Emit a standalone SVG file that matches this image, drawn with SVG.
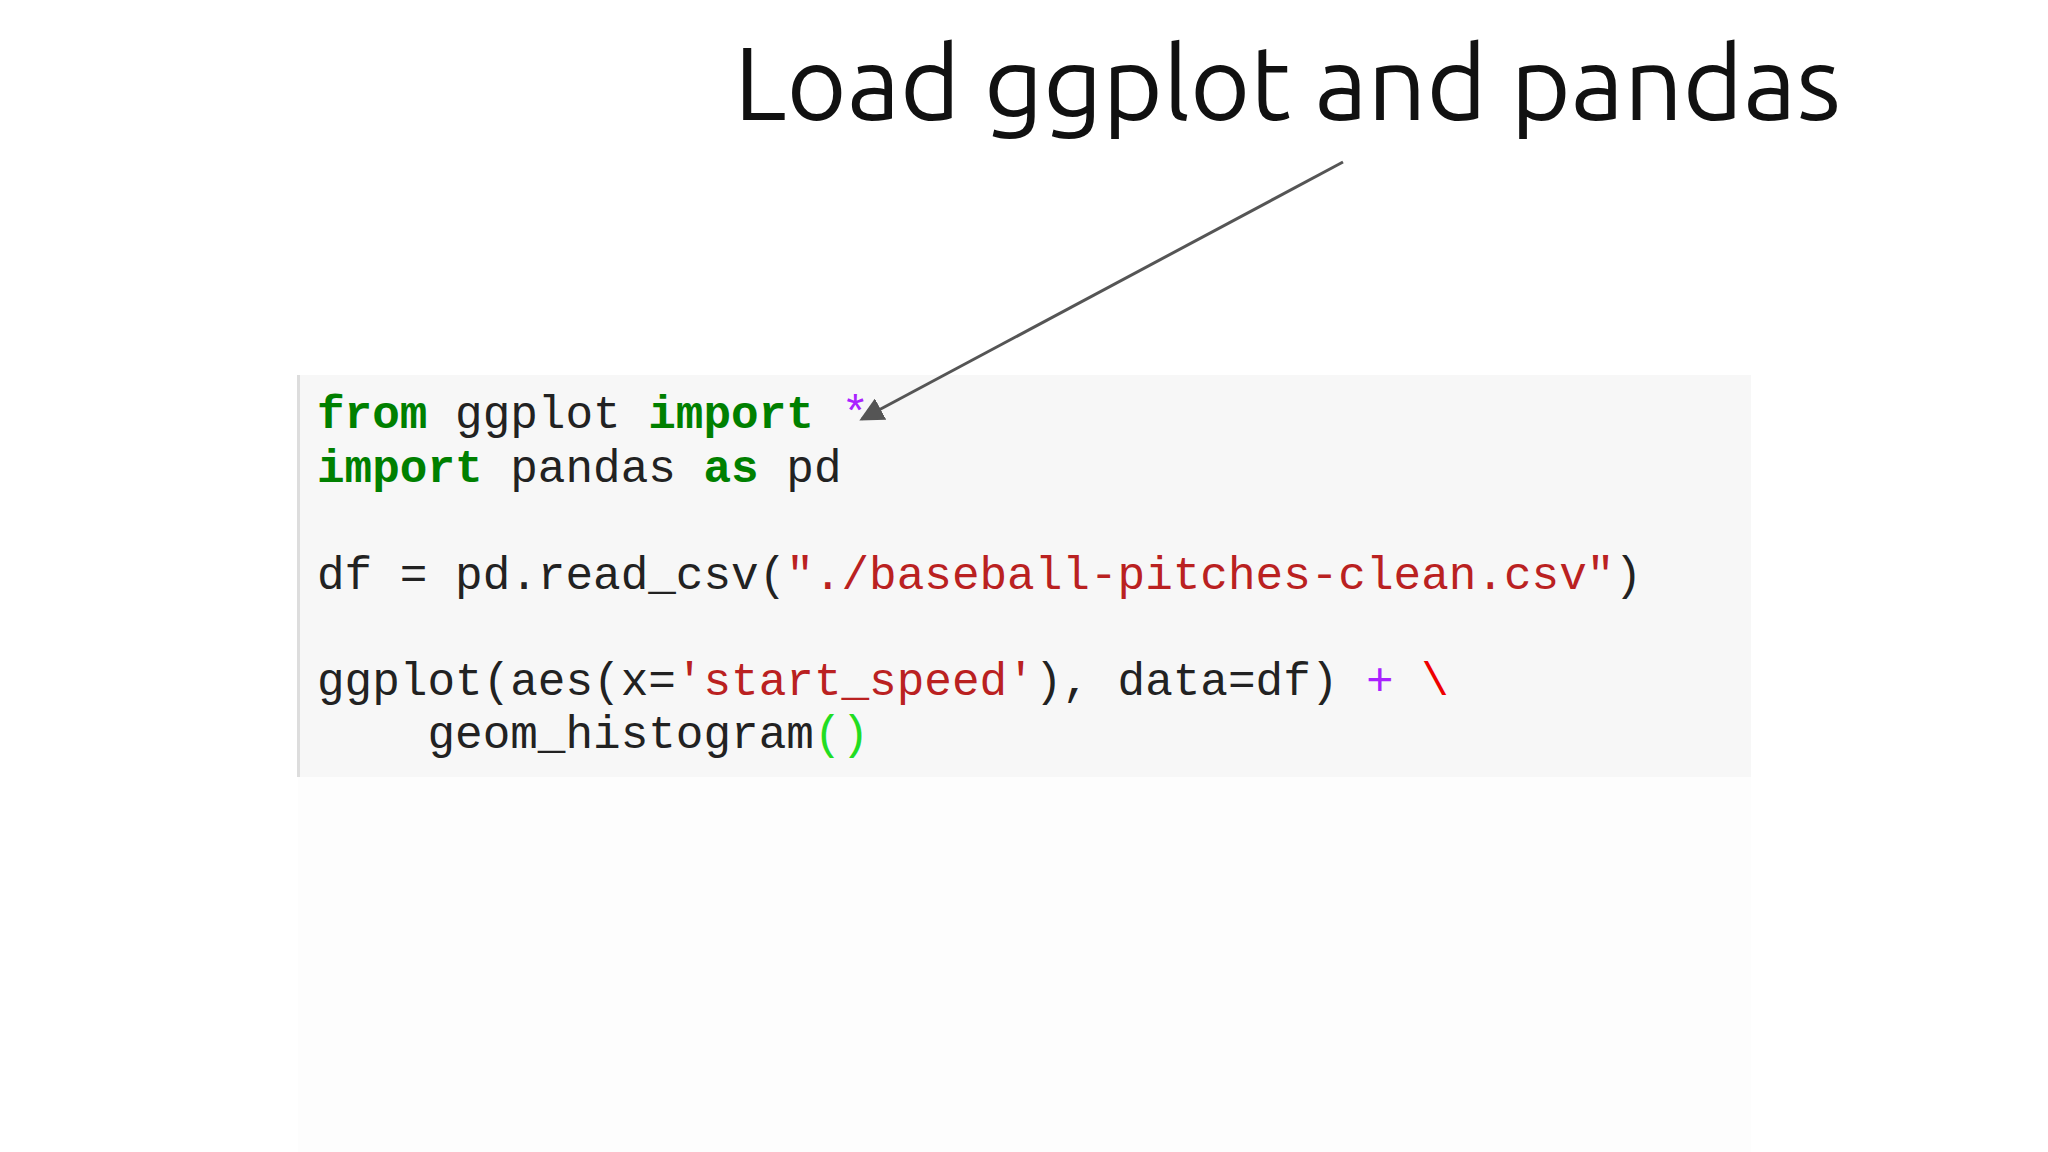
<svg xmlns="http://www.w3.org/2000/svg" width="2048" height="1152" viewBox="0 0 2048 1152">
<defs>
<style>
.c{font-family:"Liberation Mono",monospace;font-size:46px;fill:#222;white-space:pre}
.k{fill:#008000;font-weight:bold}
.s{fill:#ba2121}
.p{fill:#aa22ff}
</style>
<marker id="ah" markerWidth="8" markerHeight="8" refX="7" refY="4" orient="auto" markerUnits="strokeWidth"><path d="M0,0 L8,4 L0,8 z" fill="#555"/></marker>
</defs>
<rect width="2048" height="1152" fill="#fff"/>
<g id="title"><text x="734" y="120" font-family="Ubuntu,'Open Sans',sans-serif" font-size="104" fill="#111" textLength="1107" lengthAdjust="spacingAndGlyphs">Load ggplot and pandas</text></g>
<g id="code">
<rect x="298" y="777" width="1453" height="375" fill="#fdfdfd"/>
<rect x="298" y="375" width="1453" height="402" fill="#f7f7f7"/>
<rect x="297" y="375" width="3" height="402" fill="#ddd"/>
<text class="c" x="317" y="428"><tspan class="k">from</tspan> ggplot <tspan class="k">import</tspan> <tspan class="p">*</tspan></text>
<text class="c" x="317" y="482"><tspan class="k">import</tspan> pandas <tspan class="k">as</tspan> pd</text>
<text class="c" x="317" y="589">df = pd.read_csv(<tspan class="s">"./baseball-pitches-clean.csv"</tspan>)</text>
<text class="c" x="317" y="695">ggplot(aes(x=<tspan class="s">'start_speed'</tspan>), data=df) <tspan class="p">+</tspan> <tspan fill="#e00">\</tspan></text>
<text class="c" x="317" y="748">    geom_histogram<tspan fill="#22dd22">()</tspan></text>
</g>
<g id="connectors"><line x1="1343" y1="162" x2="862" y2="419" stroke="#555" stroke-width="3" marker-end="url(#ah)"/></g>
</svg>
